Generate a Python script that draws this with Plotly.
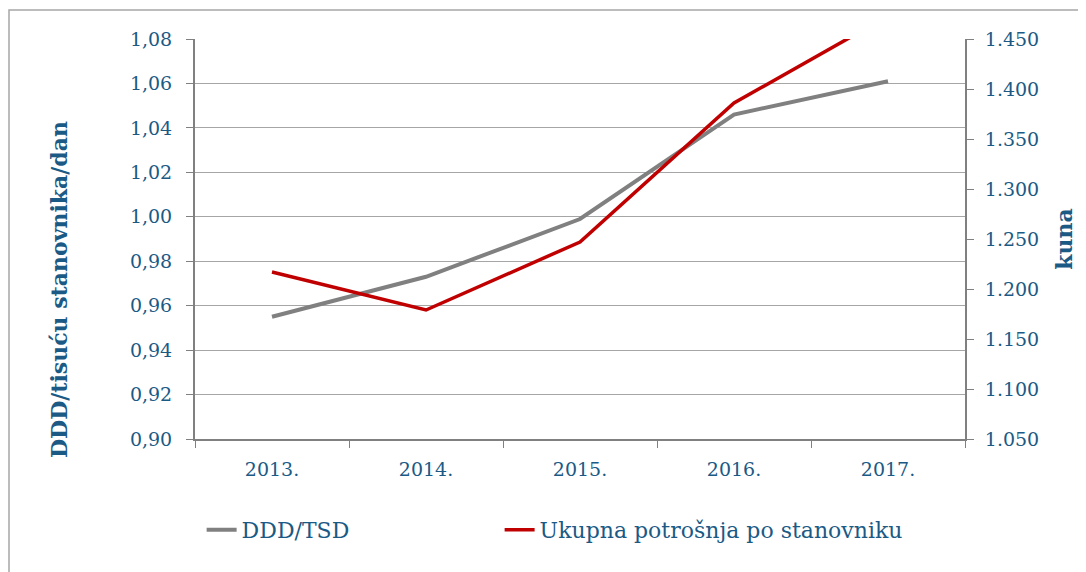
import plotly.graph_objects as go

years = ["2013.", "2014.", "2015.", "2016.", "2017."]
ddd_tsd = [0.955, 0.973, 0.999, 1.046, 1.061]
potrosnja = [1217, 1179, 1247, 1386, 1473]

left_ticks = [0.90, 0.92, 0.94, 0.96, 0.98, 1.00, 1.02, 1.04, 1.06, 1.08]
right_ticks = [1050, 1100, 1150, 1200, 1250, 1300, 1350, 1400, 1450]

TXT = "#1b5a85"
FONT = "DejaVu Serif"

fig = go.Figure()
fig.add_trace(go.Scatter(x=years, y=ddd_tsd, name="DDD/TSD", mode="lines",
                         line=dict(color="#808080", width=4), yaxis="y", legend="legend"))
fig.add_trace(go.Scatter(x=years, y=potrosnja, name="Ukupna potrošnja po stanovniku",
                         mode="lines", line=dict(color="#c00000", width=3.5), yaxis="y2",
                         legend="legend2"))

leg_common = dict(orientation="h", xanchor="left", y=-0.2275, yanchor="middle",
                  font=dict(size=22, family=FONT, color=TXT), bgcolor="rgba(0,0,0,0)")

fig.update_layout(
    width=1086, height=572,
    margin=dict(l=187, r=129, t=31, b=141),
    paper_bgcolor="white", plot_bgcolor="white",
    separators=",.",
    font=dict(family=FONT, color=TXT, size=19),
    showlegend=True,
    legend=dict(x=0.0086, **leg_common),
    legend2=dict(x=0.0086 + 298 / 770, **leg_common),
    xaxis=dict(type="category", showgrid=False, showline=True, linecolor="#808080", linewidth=2,
               ticks="outside", ticklen=7, tickcolor="#808080", tickwidth=1, tickson="boundaries",
               ticklabelstandoff=12, tickfont=dict(size=19, family=FONT, color=TXT),
               range=[-0.5, 4.5]),
    yaxis=dict(range=[0.90, 1.08], tickvals=left_ticks, tickformat=".2f",
               showgrid=True, gridcolor="#a6a6a6", gridwidth=1,
               showline=True, linecolor="#808080", linewidth=2, zeroline=False,
               ticks="outside", ticklen=7, tickcolor="#808080", tickwidth=1,
               ticklabelstandoff=10, tickfont=dict(size=19, family=FONT, color=TXT)),
    yaxis2=dict(range=[1050, 1450], tickvals=right_ticks, tickformat=",.0f",
                overlaying="y", side="right", showgrid=False, zeroline=False,
                showline=True, linecolor="#808080", linewidth=2,
                ticks="outside", ticklen=7, tickcolor="#808080", tickwidth=1,
                ticklabelstandoff=7, tickfont=dict(size=19, family=FONT, color=TXT),
                title=dict(text="<b>kuna</b>", standoff=18,
                           font=dict(size=22, family=FONT, color=TXT))),
)

# left axis title (placed slightly below centre, as in the original)
fig.add_annotation(text="<b>DDD/tisuću stanovnika/dan</b>", textangle=-90,
                   xref="paper", yref="paper", x=(59 - 195) / 770, y=0.3725,
                   xanchor="center", yanchor="middle", showarrow=False,
                   font=dict(size=22, family=FONT, color=TXT))

# outer chart-area border (top and left visible)
fig.add_shape(type="rect", xref="paper", yref="paper",
              x0=(9 - 195) / 770, x1=(1100 - 195) / 770,
              y0=(439 - 600) / 400, y1=(439 - 10) / 400,
              line=dict(color="#a6a6a6", width=1.5), fillcolor="rgba(0,0,0,0)", layer="below")

fig.write_html("out.html")
